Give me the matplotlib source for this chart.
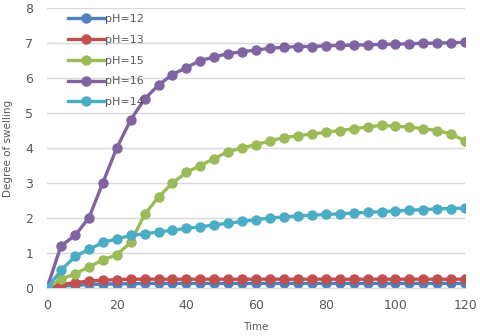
import matplotlib
matplotlib.use("Agg")
import matplotlib.pyplot as plt

time = list(range(0, 121, 4))
ph12 = [0, 0.05, 0.08, 0.1, 0.11, 0.12, 0.12, 0.13, 0.13, 0.13, 0.13, 0.13, 0.13, 0.13, 0.13, 0.13,
        0.13, 0.13, 0.13, 0.13, 0.13, 0.13, 0.13, 0.13, 0.13, 0.13, 0.13, 0.13, 0.13, 0.13, 0.13]
ph13 = [0, 0.1, 0.15, 0.2, 0.22, 0.24, 0.25, 0.25, 0.25, 0.25, 0.25, 0.25, 0.25, 0.25, 0.25, 0.25,
        0.25, 0.25, 0.25, 0.25, 0.25, 0.25, 0.25, 0.25, 0.25, 0.25, 0.25, 0.25, 0.25, 0.25, 0.25]
ph15 = [0, 0.25, 0.4, 0.6, 0.8, 0.95, 1.3, 2.1, 2.6, 3.0, 3.3, 3.5, 3.7, 3.9, 4.0, 4.1,
        4.2, 4.3, 4.35, 4.4, 4.45, 4.5, 4.55, 4.6, 4.65, 4.62, 4.6, 4.55, 4.5, 4.4, 4.2]
ph16 = [0, 1.2, 1.5, 2.0, 3.0, 4.0, 4.8, 5.4, 5.8, 6.1, 6.3, 6.5, 6.6, 6.7, 6.75, 6.8,
        6.85, 6.88, 6.9, 6.9, 6.92, 6.93, 6.94, 6.95, 6.96, 6.97, 6.98, 6.99, 7.0, 7.01, 7.02]
ph14 = [0, 0.5, 0.9, 1.1, 1.3, 1.4, 1.5, 1.55, 1.6, 1.65, 1.7, 1.75, 1.8, 1.85, 1.9, 1.95,
        2.0, 2.03, 2.06, 2.08, 2.1, 2.12, 2.14, 2.16, 2.18, 2.2, 2.22, 2.24, 2.26, 2.27, 2.28]

series = [("pH=12", ph12, "#4F81BD"), ("pH=13", ph13, "#C0504D"), ("pH=15", ph15, "#9BBB59"),
          ("pH=16", ph16, "#8064A2"), ("pH=14", ph14, "#4BACC6")]

fig = plt.figure(figsize=(4.8, 3.36), dpi=100)
ax = fig.add_axes([0.098, 0.143, 0.871, 0.833])
for name, vals, c in series:
    ax.plot(time, vals, color=c, lw=2.4, marker="o", ms=6.5, label=name)

ax.set_xlim(0, 120)
ax.set_ylim(0, 8)
ax.set_xticks(range(0, 121, 20))
ax.set_yticks(range(0, 9))
ax.grid(axis="y", color="#D9D9D9", lw=1)
ax.set_axisbelow(True)
for s in ["top", "right", "left"]:
    ax.spines[s].set_visible(False)
ax.spines["bottom"].set_color("#D9D9D9")
ax.tick_params(axis="y", length=0, colors="#595959", labelsize=9, pad=10)
ax.tick_params(axis="x", length=0, colors="#595959", labelsize=9, pad=8)
ax.set_xlabel("Time", fontsize=7.5, color="#595959", labelpad=7)
ax.set_ylabel("Degree of swelling", fontsize=7.5, color="#595959", labelpad=9)
leg = ax.legend(loc="upper left", frameon=False, fontsize=8, labelcolor="#595959",
                handlelength=3.2, handletextpad=0.1, labelspacing=0.97,
                borderpad=0.3, bbox_to_anchor=(0.03, 1.01))
fig.savefig("out.png", dpi=100)
